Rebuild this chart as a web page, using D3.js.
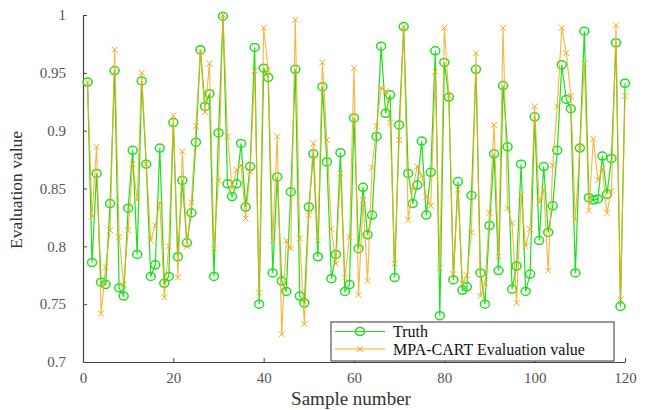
<!DOCTYPE html>
<html>
<head>
<meta charset="utf-8">
<script src="https://cdn.jsdelivr.net/npm/d3@7"></script>
<style>
  html, body { margin: 0; padding: 0; background: #fff; }
  svg { display: block; }
  text { font-family: "Liberation Serif", "DejaVu Serif", "Times New Roman", serif; }
</style>
</head>
<body>
<svg id="chart" width="654" height="410"></svg>
<script>
const sampleIndex = d3.range(1, 121);
const truthValues = [
  0.942, 0.786, 0.863, 0.769, 0.767, 0.837, 0.952, 0.764, 0.757, 0.833,
  0.883, 0.793, 0.943, 0.871, 0.774, 0.784, 0.885, 0.768, 0.774, 0.907,
  0.791, 0.857, 0.803, 0.829, 0.890, 0.970, 0.921, 0.932, 0.774, 0.898,
  0.999, 0.854, 0.843, 0.854, 0.889, 0.834, 0.869, 0.972, 0.750, 0.954,
  0.946, 0.777, 0.860, 0.770, 0.761, 0.847, 0.953, 0.757, 0.751, 0.834,
  0.880, 0.791, 0.938, 0.873, 0.772, 0.793, 0.881, 0.761, 0.767, 0.911,
  0.798, 0.851, 0.810, 0.827, 0.895, 0.973, 0.915, 0.931, 0.773, 0.905,
  0.990, 0.863, 0.837, 0.853, 0.891, 0.827, 0.864, 0.969, 0.740, 0.959,
  0.929, 0.771, 0.856, 0.762, 0.765, 0.844, 0.953, 0.777, 0.750, 0.818,
  0.880, 0.779, 0.939, 0.886, 0.763, 0.783, 0.871, 0.761, 0.776, 0.912,
  0.805, 0.869, 0.812, 0.835, 0.883, 0.957, 0.927, 0.919, 0.777, 0.885,
  0.986, 0.842, 0.840, 0.841, 0.878, 0.845, 0.876, 0.976, 0.748, 0.941
];
const predValues = [
  0.942, 0.826, 0.886, 0.742, 0.782, 0.814, 0.970, 0.808, 0.767, 0.814,
  0.871, 0.840, 0.950, 0.871, 0.805, 0.818, 0.838, 0.756, 0.800, 0.913,
  0.773, 0.882, 0.800, 0.838, 0.904, 0.968, 0.916, 0.958, 0.798, 0.857,
  1.000, 0.895, 0.850, 0.866, 0.870, 0.824, 0.865, 0.952, 0.760, 0.989,
  0.952, 0.805, 0.895, 0.724, 0.805, 0.798, 0.996, 0.807, 0.733, 0.827,
  0.889, 0.805, 0.959, 0.892, 0.815, 0.785, 0.863, 0.773, 0.808, 0.954,
  0.758, 0.840, 0.770, 0.868, 0.904, 0.937, 0.934, 0.907, 0.785, 0.892,
  0.990, 0.823, 0.850, 0.869, 0.861, 0.843, 0.835, 0.951, 0.781, 0.989,
  0.930, 0.776, 0.849, 0.768, 0.775, 0.812, 0.967, 0.757, 0.768, 0.829,
  0.905, 0.791, 0.989, 0.833, 0.820, 0.751, 0.844, 0.800, 0.815, 0.921,
  0.838, 0.849, 0.779, 0.870, 0.921, 0.989, 0.967, 0.930, 0.823, 0.885,
  0.958, 0.831, 0.893, 0.857, 0.867, 0.829, 0.848, 0.991, 0.754, 0.930
];
const xTicks = [0, 20, 40, 60, 80, 100, 120];
const yTicks = [0.7, 0.75, 0.8, 0.85, 0.9, 0.95, 1];
const seriesNames = ["Truth", "MPA-CART Evaluation value"];
const xLabel = "Sample number";
const yLabel = "Evaluation value";

const green = "#1ee01e";
const orange = "#f8a81c";
const font = "Liberation Serif, DejaVu Serif, serif";

const svg = d3.select("#chart");
const x = d3.scaleLinear().domain([0, 120]).range([83, 625]);
const y = d3.scaleLinear().domain([0.7, 1]).range([362, 15]);

const truth = sampleIndex.map((s, i) => ({ s, v: truthValues[i] }));
const pred = sampleIndex.map((s, i) => ({ s, v: predValues[i] }));

// axes
const xAxis = d3.axisBottom(x).tickValues(xTicks).tickSizeInner(-4).tickSizeOuter(0).tickPadding(10)
  .tickFormat(d3.format("d"));
const yAxis = d3.axisLeft(y).tickValues(yTicks).tickSizeInner(-4).tickSizeOuter(0).tickPadding(17)
  .tickFormat(d => String(+d.toFixed(2)));

const gx = svg.append("g").attr("transform", `translate(0,${y(0.7)})`).call(xAxis);
const gy = svg.append("g").attr("transform", `translate(${x(0)},0)`).call(yAxis);
[gx, gy].forEach(g => {
  g.attr("font-family", font);
  g.select(".domain").attr("stroke", "#444").attr("stroke-width", 1.2);
  g.selectAll(".tick line").attr("stroke", "#444");
  g.selectAll(".tick text").attr("font-family", font).attr("font-size", 15).attr("fill", "#555");
});

const line = d3.line().x(d => x(d.s)).y(d => y(d.v));

// Truth
svg.append("path").datum(truth).attr("d", line)
  .attr("fill", "none").attr("stroke", green).attr("stroke-width", 1.2);
svg.append("g").selectAll("ellipse").data(truth).join("ellipse")
  .attr("cx", d => x(d.s)).attr("cy", d => y(d.v)).attr("rx", 4.5).attr("ry", 4)
  .attr("fill", "none").attr("stroke", green).attr("stroke-width", 1.5);

// Prediction
svg.append("path").datum(pred).attr("d", line)
  .attr("fill", "none").attr("stroke", orange).attr("stroke-width", 1.1).attr("stroke-opacity", 0.85);
const cross = (g, cx, cy, r) => {
  g.append("path").attr("d", `M${cx - r},${cy - r}L${cx + r},${cy + r}M${cx - r},${cy + r}L${cx + r},${cy - r}`)
    .attr("stroke", orange).attr("stroke-width", 1).attr("fill", "none");
};
const gp = svg.append("g");
pred.forEach(d => cross(gp, x(d.s), y(d.v), 3));

// axis titles
svg.append("text").attr("x", 351).attr("y", 405).attr("text-anchor", "middle")
  .attr("font-family", font).attr("font-size", 19).attr("fill", "#333").text(xLabel);
svg.append("text").attr("transform", `translate(22,190) rotate(-90)`).attr("text-anchor", "middle")
  .attr("font-family", font).attr("font-size", 17.5).attr("fill", "#333").text(yLabel);

// legend
const lg = svg.append("g");
lg.append("rect").attr("x", 331).attr("y", 322).attr("width", 283).attr("height", 39)
  .attr("fill", "#fff").attr("stroke", "#333").attr("stroke-width", 1);
const rows = [331.5, 349];
lg.append("line").attr("x1", 335).attr("x2", 385).attr("y1", rows[0]).attr("y2", rows[0])
  .attr("stroke", green).attr("stroke-width", 1.2);
lg.append("ellipse").attr("cx", 360).attr("cy", rows[0]).attr("rx", 4.5).attr("ry", 4)
  .attr("fill", "none").attr("stroke", green).attr("stroke-width", 1.5);
lg.append("line").attr("x1", 335).attr("x2", 385).attr("y1", rows[1]).attr("y2", rows[1])
  .attr("stroke", orange).attr("stroke-width", 1.2);
cross(lg, 360, rows[1], 3);
seriesNames.forEach((n, i) => {
  lg.append("text").attr("x", 393).attr("y", rows[i]).attr("dy", "0.35em")
    .attr("font-family", font).attr("font-size", 16).attr("fill", "#111").text(n);
});
</script>
</body>
</html>
